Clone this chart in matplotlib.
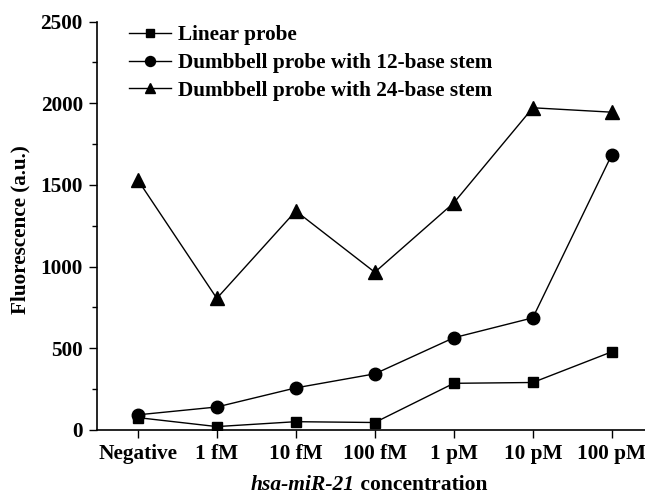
import matplotlib
matplotlib.use("Agg")
import matplotlib.pyplot as plt
from matplotlib.ticker import MultipleLocator

categories = ["Negative", "1 fM", "10 fM", "100 fM", "1 pM", "10 pM", "100 pM"]
linear = [75, 20, 50, 45, 285, 290, 478]
dumbbell12 = [92, 140, 257, 343, 564, 686, 1685]
dumbbell24 = [1530, 805, 1340, 965, 1390, 1972, 1945]
labels = ["Linear probe", "Dumbbell probe with 12-base stem", "Dumbbell probe with 24-base stem"]

plt.rcParams['font.family'] = ['Liberation Serif', 'DejaVu Serif']
plt.rcParams['font.weight'] = 'bold'
FS = 15.3

fig = plt.figure(figsize=(6.45, 5.01), dpi=100)
ax = fig.add_axes([0.150, 0.142, 0.85, 0.815])

x = list(range(len(categories)))
ax.plot(x, linear, '-', marker='s', color='black', lw=1, ms=7.5, label=labels[0])
ax.plot(x, dumbbell12, '-', marker='o', color='black', lw=1, ms=9, label=labels[1])
ax.plot(x, dumbbell24, '-', marker='^', color='black', lw=1, ms=9.5, label=labels[2])

ax.set_xlim(-0.52, 6.42)
ax.set_ylim(0, 2500)
ax.set_xticks(x)
ax.set_xticklabels(categories, fontsize=FS, fontweight='bold')
ax.yaxis.set_major_locator(MultipleLocator(500))
ax.yaxis.set_minor_locator(MultipleLocator(250))
for lab in ax.get_yticklabels():
    lab.set_fontsize(FS)
    lab.set_fontweight('bold')
ax.tick_params(axis='both', which='major', direction='out', length=6, width=1, pad=4)
ax.tick_params(axis='y', which='minor', direction='out', length=3.5, width=1)
for s in ['top', 'right']:
    ax.spines[s].set_visible(False)
for s in ['left', 'bottom']:
    ax.spines[s].set_linewidth(1.2)

ax.set_ylabel("Fluorescence (a.u.)", fontsize=15.2, fontweight='bold')
ax.yaxis.set_label_coords(-0.12, 0.49)

leg = ax.legend(loc='upper left', bbox_to_anchor=(0.035, 1.022), frameon=False,
                prop={'size': FS, 'weight': 'bold'}, handlelength=2.0,
                handletextpad=0.3, labelspacing=0.36, borderaxespad=0.2,
                markerscale=0.8)

t1 = fig.text(0.385, 0.012, "hsa-miR-21", fontsize=15.5, fontweight='bold',
              style='italic', ha='left', va='bottom')
fig.canvas.draw()
t2 = ax.annotate(" concentration", xy=(1, 0), xycoords=t1, fontsize=15.5,
                 fontweight='bold', ha='left', va='bottom', annotation_clip=False)
fig.canvas.draw()
r = fig.canvas.get_renderer()
b1 = t1.get_window_extent(r)
b2 = t2.get_window_extent(r)
total = b2.x1 - b1.x0
center_px = 369
t1.set_x((center_px - total / 2) / fig.bbox.width)

fig.savefig("out.png", dpi=100)
